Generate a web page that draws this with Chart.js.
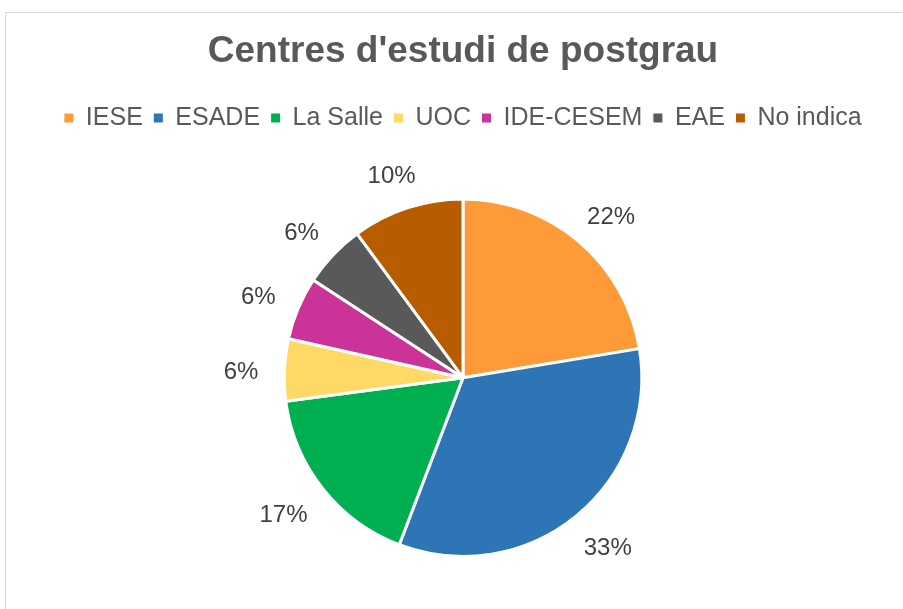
<!DOCTYPE html>
<html>
<head>
<meta charset="utf-8">
<script src="https://cdn.jsdelivr.net/npm/chart.js@4.4.1/dist/chart.umd.min.js"></script>
<style>
    html, body { margin: 0; padding: 0; background: #fff; }
    #wrap { position: relative; width: 903px; height: 609px; overflow: hidden; }
    #frame { position: absolute; left: 5px; top: 12px; width: 1000px; height: 700px; border: 1px solid #d9d9d9; }
    #chart { position: absolute; left: 0; top: 0; }
</style>
</head>
<body>
<div id="wrap">
    <div id="frame"></div>
    <canvas id="chart" width="903" height="609"></canvas>
</div>
<script>
const categories = ['IESE', 'ESADE', 'La Salle', 'UOC', 'IDE-CESEM', 'EAE', 'No indica'];
const shares = [22.4, 33.4, 17.1, 5.6, 5.7, 5.7, 10.1];
const sliceColors = ['#FF9A38', '#2E75B6', '#00B050', '#FFD966', '#CC3399', '#595959', '#B85C00'];
const chartTitle = "Centres d'estudi de postgrau";

const fontFamily = '"Liberation Sans", Arial, sans-serif';

// extra room between legend and pie
const legendGap = {
    id: 'legendGap',
    beforeInit(chart) {
        const fit = chart.legend.fit;
        chart.legend.fit = function () {
            fit.call(this);
            this.height += 57;
        };
    }
};

// percent labels outside each slice
const outsideLabels = {
    id: 'outsideLabels',
    afterDatasetsDraw(chart) {
        const ctx = chart.ctx;
        const meta = chart.getDatasetMeta(0);
        const total = shares.reduce((a, b) => a + b, 0);
        ctx.save();
        ctx.font = '24px ' + fontFamily;
        ctx.fillStyle = '#404040';
        ctx.textAlign = 'center';
        ctx.textBaseline = 'middle';
        meta.data.forEach((arc, i) => {
            const p = arc.getProps(['x', 'y', 'startAngle', 'endAngle', 'outerRadius'], true);
            const mid = (p.startAngle + p.endAngle) / 2;
            const dx = Math.cos(mid), dy = Math.sin(mid);
            const text = Math.round(shares[i] / total * 100) + '%';
            const w = ctx.measureText(text).width;
            const h = 22;
            const r = p.outerRadius + 26;
            const x = p.x + dx * r + dx * w / 2;
            const y = p.y + dy * r + dy * h / 2 + 4;
            ctx.fillText(text, x, y);
        });
        ctx.restore();
    }
};

new Chart(document.getElementById('chart'), {
    type: 'pie',
    data: {
        labels: categories,
        datasets: [{
            data: shares,
            backgroundColor: sliceColors,
            borderColor: '#ffffff',
            borderWidth: 3
        }]
    },
    options: {
        responsive: false,
        animation: false,
        layout: { padding: { left: 23, right: 0, top: 0, bottom: 51 } },
        plugins: {
            title: {
                display: true,
                text: chartTitle,
                color: '#595959',
                font: { family: fontFamily, size: 37, weight: 'bold' },
                padding: { top: 30, bottom: 20 }
            },
            legend: {
                position: 'top',
                labels: {
                    color: '#595959',
                    font: { family: fontFamily, size: 25 },
                    boxWidth: 9,
                    boxHeight: 9,
                    padding: 11,
                    generateLabels(chart) {
                        const items = Chart.overrides.pie.plugins.legend.labels.generateLabels(chart);
                        return items.map(it => ({ ...it, lineWidth: 0, strokeStyle: it.fillStyle }));
                    }
                }
            },
            tooltip: { enabled: false }
        }
    },
    plugins: [legendGap, outsideLabels]
});
</script>
</body>
</html>
